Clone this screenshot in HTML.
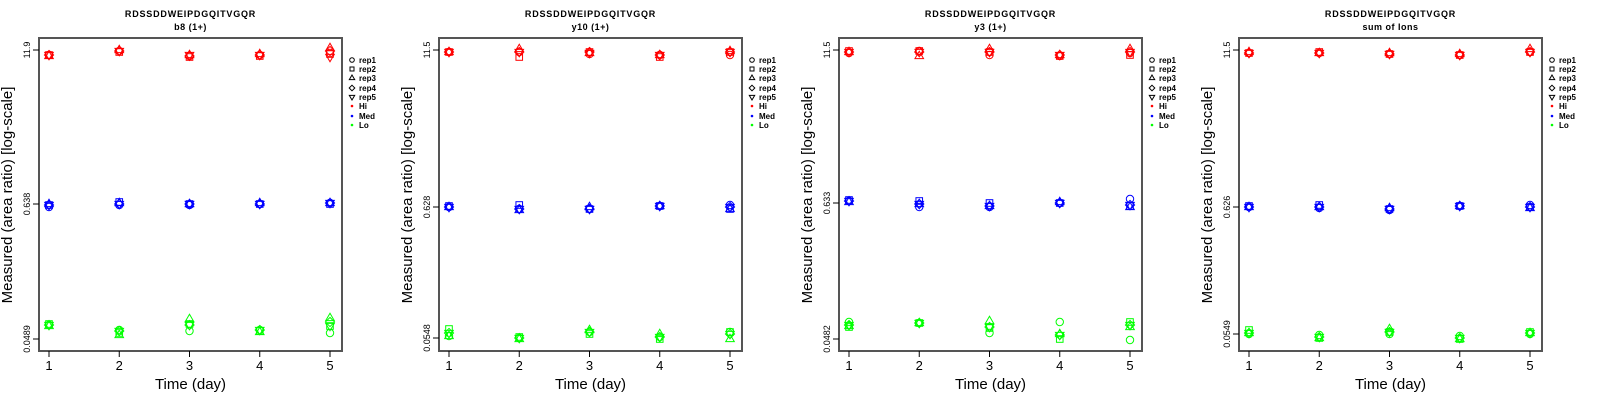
<!DOCTYPE html>
<html><head><meta charset="utf-8"><style>
html,body{margin:0;padding:0;background:#fff;}
svg{display:block;font-family:"Liberation Sans",sans-serif;}
</style></head><body>
<svg id="s" width="1600" height="400" xmlns="http://www.w3.org/2000/svg"></svg>
<script>
const S=document.getElementById('s');let h='';
const sc=a=>a.map(r=>r.map(v=>Math.round(v/0.98)));
const panels=[
 {sub:'b8 (1+)',ticks:[['11.9',50],['0.638',204],['0.0489',339]],
  hi:[[55,55,56,55,55],[51,52,50,51,51],[56,57,55,56,55],[55,56,54,55,55],[53,54,48,51,57]],
  med:[[207,205,204,205,205],[205,202,203,204,204],[205,204,204,204,204],[204,204,203,204,204],[203,204,203,203,203]],
  lo:[[325,324,326,325,325],[330,333,335,331,331],[331,324,319,325,325],[330,331,332,330,330],[333,326,318,322,326]]},
 {sub:'y10 (1+)',ticks:[['11.5',50],['0.628',207],['0.0548',338]],
  hi:sc([[51,51,51,51,51],[51,56,48,51,51],[53,51,52,51,52],[54,56,54,54,54],[54,51,50,51,51]]),
  med:sc([[203,202,203,203,203],[205,201,206,205,205],[205,205,203,205,205],[202,202,202,202,202],[201,205,205,203,203]]),
  lo:sc([[329,322,329,326,326],[331,330,332,331,331],[325,327,323,325,325],[330,332,327,330,330],[325,325,332,327,327]])},
 {sub:'y3 (1+)',ticks:[['11.5',50],['0.633',203],['0.0482',339]],
  hi:[[53,51,52,52,52],[51,51,56,52,52],[55,52,49,52,52],[56,56,55,55,55],[53,55,49,52,52]],
  med:[[201,200,202,201,201],[207,201,204,204,204],[207,203,206,206,206],[203,203,202,203,203],[199,206,207,205,205]],
  lo:[[322,327,326,325,325],[323,323,323,323,323],[333,328,321,327,327],[322,339,334,335,335],[340,322,327,325,325]]},
 {sub:'sum of Ions',ticks:[['11.5',50],['0.626',207],['0.0549',334]],
  hi:sc([[52,52,51,52,52],[52,51,52,52,52],[53,53,52,53,53],[54,54,53,54,54],[51,51,48,51,51]]),
  med:sc([[203,202,203,203,203],[204,201,203,203,203],[206,205,204,205,205],[202,202,202,202,202],[201,203,204,203,203]]),
  lo:sc([[327,323,326,326,326],[328,331,331,330,330],[327,325,322,325,325],[329,332,332,331,331],[327,325,326,326,326]])}
];
function mk(x,y,r,c){
 const R=3.7;
 if(r==0)return `<circle cx="${x}" cy="${y}" r="${R}" fill="none" stroke="${c}"/>`;
 if(r==1)return `<rect x="${x-3.3}" y="${y-3.3}" width="6.6" height="6.6" fill="none" stroke="${c}"/>`;
 if(r==2)return `<polygon points="${x},${y-4.8} ${x+4.3},${y+2.6} ${x-4.3},${y+2.6}" fill="none" stroke="${c}"/>`;
 if(r==3)return `<polygon points="${x},${y-4.6} ${x+4.6},${y} ${x},${y+4.6} ${x-4.6},${y}" fill="none" stroke="${c}"/>`;
 return `<polygon points="${x},${y+4.8} ${x+4.3},${y-2.6} ${x-4.3},${y-2.6}" fill="none" stroke="${c}"/>`;
}
panels.forEach((p,i)=>{
 const o=i*400;
 const L=39+o,R=342+o,T=38,B=351;
 h+=`<text x="${190.5+o}" y="17" font-size="9" font-weight="bold" letter-spacing="0.8" text-anchor="middle">RDSSDDWEIPDGQITVGQR</text>`;
 h+=`<text x="${190.5+o}" y="30" font-size="9" font-weight="bold" letter-spacing="0.5" text-anchor="middle">${p.sub}</text>`;
 const xs=[0,1,2,3,4].map(k=>49+o+k*70.25);
 [['hi','#ff0000'],['med','#0000ff'],['lo','#00ff00']].forEach(([k,c])=>{
  p[k].forEach((ys,xi)=>ys.forEach((y,r)=>{h+=mk(xs[xi],y,r,c);}));
 });
 h+=`<rect x="${L}" y="${T}" width="${R-L}" height="${B-T}" fill="none" stroke="#555" stroke-width="2"/>`;
 xs.forEach((x,k)=>{h+=`<line x1="${x}" y1="${B}" x2="${x}" y2="${B+6}" stroke="#000"/><text x="${x}" y="${B+19}" font-size="13" text-anchor="middle">${k+1}</text>`;});
 p.ticks.forEach(([t,y])=>{h+=`<line x1="${L-6}" y1="${y}" x2="${L}" y2="${y}" stroke="#000"/><text transform="translate(${L-9},${y}) rotate(-90)" font-size="9" text-anchor="middle">${t}</text>`;});
 h+=`<text x="${190.5+o}" y="389" font-size="15" text-anchor="middle">Time (day)</text>`;
 h+=`<text transform="translate(${12+o},195) rotate(-90)" font-size="15" text-anchor="middle">Measured (area ratio) [log-scale]</text>`;
 const lx=352+o,ly=[60,69,78,88,97,106,116,125];
 ['rep1','rep2','rep3','rep4','rep5'].forEach((t,r)=>{
  const y=ly[r];
  let m='';
  if(r==0)m=`<circle cx="${lx}" cy="${y}" r="2.3" fill="none" stroke="#000"/>`;
  if(r==1)m=`<rect x="${lx-2}" y="${y-2}" width="4" height="4" fill="none" stroke="#000"/>`;
  if(r==2)m=`<polygon points="${lx},${y-3} ${lx+2.7},${y+1.6} ${lx-2.7},${y+1.6}" fill="none" stroke="#000"/>`;
  if(r==3)m=`<polygon points="${lx},${y-2.8} ${lx+2.8},${y} ${lx},${y+2.8} ${lx-2.8},${y}" fill="none" stroke="#000"/>`;
  if(r==4)m=`<polygon points="${lx},${y+3} ${lx+2.7},${y-1.6} ${lx-2.7},${y-1.6}" fill="none" stroke="#000"/>`;
  h+=m+`<text x="${lx+7}" y="${y+3}" font-size="8" font-weight="bold">${t}</text>`;
 });
 [['Hi','#ff0000'],['Med','#0000ff'],['Lo','#00ff00']].forEach(([t,c],j)=>{
  const y=ly[5+j];
  h+=`<circle cx="${lx}" cy="${y}" r="1.3" fill="${c}"/><text x="${lx+7}" y="${y+3}" font-size="8" font-weight="bold">${t}</text>`;
 });
});
S.innerHTML=h;
</script>
</body></html>
